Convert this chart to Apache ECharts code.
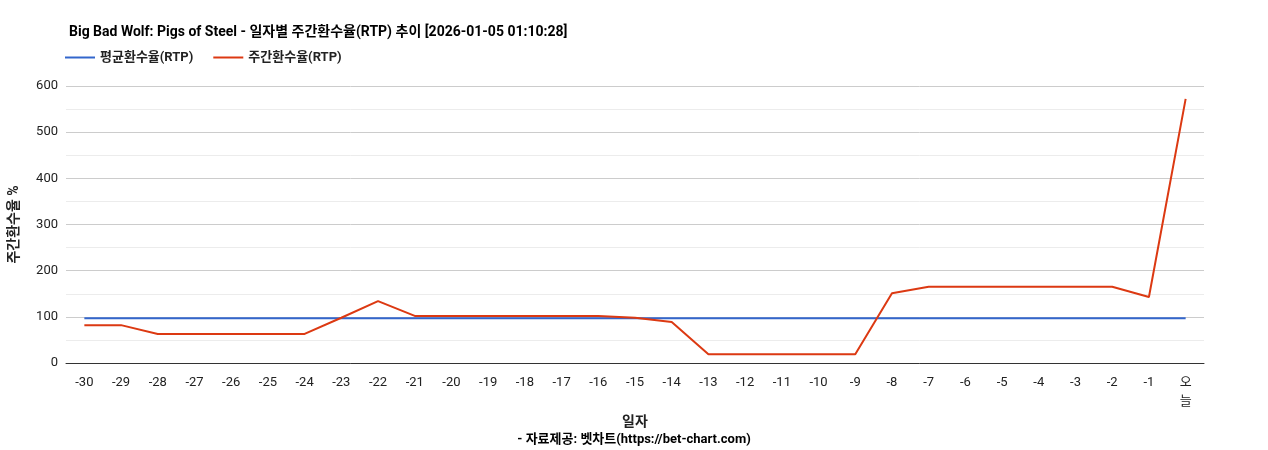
<!DOCTYPE html>
<html>
<head>
<meta charset="utf-8">
<script src="https://cdn.jsdelivr.net/npm/echarts@6/dist/echarts.min.js"></script>
<style>html,body{margin:0;padding:0;background:#fff}#chart{width:1268px;height:450px}</style>
</head>
<body>
<div id="chart"></div>
<script>
var days = ['-30','-29','-28','-27','-26','-25','-24','-23','-22','-21','-20','-19','-18','-17','-16','-15',
  '-14','-13','-12','-11','-10','-9','-8','-7','-6','-5','-4','-3','-2','-1','오\n늘'];
var avgRtp = [97,97,97,97,97,97,97,97,97,97,97,97,97,97,97,97,97,97,97,97,97,97,97,97,97,97,97,97,97,97,97];
var weekRtp = [82,82,63,63,63,63,63,98,134,102,102,102,102,102,102,98,
  89,19,19,19,19,19,151,165,165,165,165,165,165,143,572];
var yTicks = { min: 0, max: 600, interval: 100 };

var font = 'Roboto, "Noto Sans CJK KR", sans-serif';
var chart = echarts.init(document.getElementById('chart'));
chart.setOption({
  animation: false,
  textStyle: { fontFamily: font },
  title: [
    { text: 'Big Bad Wolf: Pigs of Steel - 일자별 주간환수율(RTP) 추이 [2026-01-05 01:10:28]',
      left: 64, top: 21, textStyle: { fontSize: 14, fontWeight: 'bold', color: '#000', fontFamily: font } },
    { text: '- 자료제공: 벳차트(https://bet-chart.com)', left: 'center', top: 428,
      textStyle: { fontSize: 13, fontWeight: 'bold', color: '#000', fontFamily: font } }
  ],
  legend: {
    left: 60, top: 46, itemWidth: 30, itemHeight: 2, itemGap: 20, icon: 'rect',
    textStyle: { fontSize: 13, fontWeight: 'bold', color: '#222' },
    data: ['평균환수율(RTP)', '주간환수율(RTP)']
  },
  grid: { left: 64, right: 64, top: 86, bottom: 87 },
  xAxis: {
    type: 'category', data: days, boundaryGap: true,
    name: '일자', nameLocation: 'middle', nameGap: 45,
    nameTextStyle: { fontSize: 14, fontWeight: 'bold', color: '#222' },
    axisLine: { lineStyle: { color: '#333' } },
    axisTick: { show: false },
    axisLabel: { interval: 0, fontSize: 13, color: '#222', margin: 10, lineHeight: 19 }
  },
  yAxis: {
    type: 'value', min: yTicks.min, max: yTicks.max, interval: yTicks.interval,
    name: '주간환수율 %', nameLocation: 'middle', nameGap: 44,
    nameTextStyle: { fontSize: 14, fontWeight: 'bold', color: '#222' },
    axisLine: { show: false }, axisTick: { show: false },
    axisLabel: { fontSize: 13, color: '#222' },
    splitLine: { lineStyle: { color: '#ccc' } },
    minorTick: { show: false, splitNumber: 2 },
    minorSplitLine: { show: true, lineStyle: { color: '#ececec' } }
  },
  series: [
    { name: '평균환수율(RTP)', type: 'line', data: avgRtp, symbol: 'none',
      itemStyle: { color: '#3366cc' }, lineStyle: { width: 2, color: '#3366cc' } },
    { name: '주간환수율(RTP)', type: 'line', data: weekRtp, symbol: 'none',
      itemStyle: { color: '#dc3912' }, lineStyle: { width: 2, color: '#dc3912' } }
  ]
});
</script>
</body>
</html>
